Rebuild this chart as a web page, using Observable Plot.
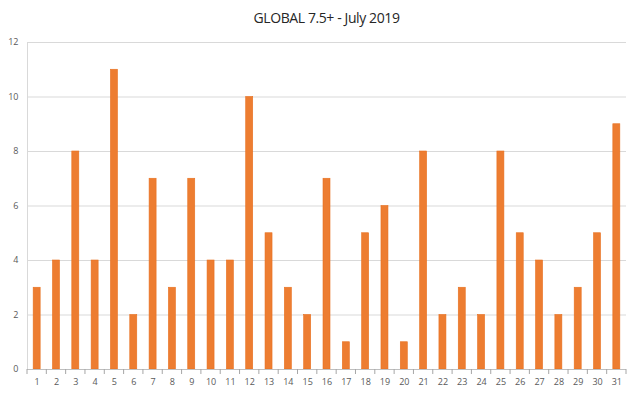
<!DOCTYPE html>
<html><head><meta charset="utf-8">
<script src="https://cdn.jsdelivr.net/npm/d3@7"></script>
<script src="https://cdn.jsdelivr.net/npm/@observablehq/plot@0.6"></script>
<style>
body{margin:0;background:#fff;width:640px;height:401px;overflow:hidden;font-family:"Open Sans",sans-serif}
#title{height:32px;box-sizing:border-box;padding-top:10px;padding-left:13px;text-align:center;font-size:14px;color:#262626;line-height:16px;letter-spacing:-0.4px}
#chart svg{display:block}
</style></head><body>
<div id="title">GLOBAL 7.5+ - July 2019</div>
<div id="chart"></div>
<script>
const days = d3.range(1, 32);
const counts = [3,4,8,4,11,2,7,3,7,4,4,10,5,3,2,7,1,5,6,1,8,2,3,2,8,5,4,2,3,5,9];
const yTicks = [0,2,4,6,8,10,12];
const data = days.map((d,i)=>({day:d, n:counts[i]}));

const W = 640, H = 369, ml = 27, mr = 14, mt = 10, mb = 32;
const step = (W - ml - mr) / days.length;
const pad = 1 - 7 / step;

const chart = Plot.plot({
  width: W, height: H,
  marginLeft: ml, marginRight: mr, marginTop: mt, marginBottom: mb,
  style: {fontFamily: "'Open Sans', sans-serif", fontSize: "9px", color: "#595959", background: "#fff"},
  x: {type: "band", domain: days, paddingInner: pad, paddingOuter: pad/2, round: false, label: null},
  y: {domain: [0, 12], label: null},
  marks: [
    Plot.gridY(yTicks, {stroke: "#d9d9d9", strokeOpacity: 1}),
    Plot.frame({anchor: "left", stroke: "#d9d9d9"}),
    Plot.axisY(yTicks, {tickSize: 0, tickPadding: 9, fill: "#595959"}),
    Plot.barY(data, {x: "day", y: "n", fill: "#ED7D31", stroke: "#E8701F", strokeWidth: 0.6}),
    Plot.ruleY([0], {stroke: "#bfbfbf"}),
    Plot.axisX(days, {tickSize: 0, tickPadding: 9, fill: "#595959"})
  ]
});

// category-boundary tick marks (Excel style), placed with Plot's own x and y scales
const xs = chart.scale("x"), ys = chart.scale("y");
const y0 = ys.apply(0);
const boundaries = days.map(d => xs.apply(d) + xs.bandwidth / 2 - xs.step / 2);
boundaries.push(xs.apply(days[days.length - 1]) + xs.bandwidth / 2 + xs.step / 2);
d3.select(chart).append("g")
  .attr("stroke", "#a6a6a6")
  .attr("stroke-width", 1)
  .selectAll("line").data(boundaries).join("line")
  .attr("x1", d => d).attr("x2", d => d)
  .attr("y1", y0).attr("y2", y0 + 5);

document.getElementById("chart").appendChild(chart);
</script>
</body></html>
